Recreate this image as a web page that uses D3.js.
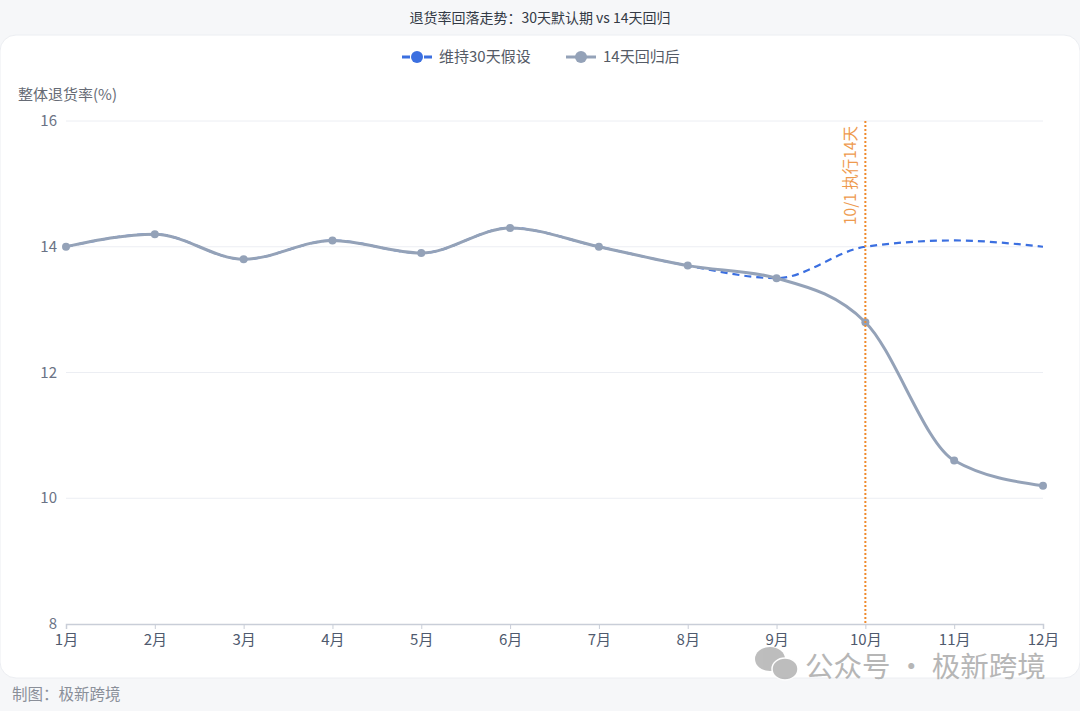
<!DOCTYPE html>
<html>
<head>
<meta charset="utf-8">
<script src="https://cdn.jsdelivr.net/npm/d3@7/dist/d3.min.js"></script>
<style>
  html, body { margin: 0; padding: 0; background: #f6f7f9; }
  body { font-family: "Noto Sans CJK SC", "Noto Sans", sans-serif; }
</style>
</head>
<body>
<div id="chart"></div>
<script>
var months = ["1月", "2月", "3月", "4月", "5月", "6月", "7月", "8月", "9月", "10月", "11月", "12月"];
var keep30 = [14.0, 14.2, 13.8, 14.1, 13.9, 14.3, 14.0, 13.7, 13.5, 14.0, 14.1, 14.0];
var after14 = [14.0, 14.2, 13.8, 14.1, 13.9, 14.3, 14.0, 13.7, 13.5, 12.8, 10.6, 10.2];
var yTicks = [8, 10, 12, 14, 16];
var markMonth = "10月";
var markLabel = "10/1 执行14天";

var W = 1080, H = 711;
var svg = d3.select("#chart").append("svg")
    .attr("width", W)
    .attr("height", H)
    .style("display", "block");

svg.append("rect").attr("width", W).attr("height", H).attr("fill", "#f6f7f9");

// white card
svg.append("rect")
   .attr("x", 0).attr("y", 35)
   .attr("width", W).attr("height", 643)
   .attr("rx", 16)
   .attr("fill", "#ffffff")
   .attr("stroke", "#eceef2");

svg.append("text")
   .attr("x", W / 2).attr("y", 23)
   .attr("text-anchor", "middle")
   .style("font-size", "14px")
   .style("fill", "#333a45")
   .text("退货率回落走势：30天默认期 vs 14天回归");

var x = d3.scalePoint().domain(months).range([66, 1043]);
var y = d3.scaleLinear().domain([8, 16]).range([624, 121]);

// grid
svg.append("g")
   .selectAll("line")
   .data(yTicks.filter(function (d) { return d != 8; }))
   .enter()
   .append("line")
   .attr("x1", 66).attr("x2", 1043)
   .attr("y1", function (d) { return y(d); })
   .attr("y2", function (d) { return y(d); })
   .style("stroke", "#eceef3")
   .style("stroke-width", 1);

svg.append("g")
   .selectAll("text")
   .data(yTicks)
   .enter()
   .append("text")
   .attr("x", 57)
   .attr("y", function (d) { return y(d) + 5; })
   .attr("text-anchor", "end")
   .style("font-size", "15px")
   .style("fill", "#6b7385")
   .text(function (d) { return d; });

svg.append("text")
   .attr("x", 18).attr("y", 100)
   .style("font-size", "15px")
   .style("fill", "#666b75")
   .text("整体退货率(%)");

// x axis
var xAxis = svg.append("g")
   .attr("transform", "translate(0,624)")
   .call(d3.axisBottom(x).tickSize(5).tickPadding(5));
xAxis.select(".domain").style("stroke", "#c9ced8").style("stroke-width", 1.5);
xAxis.selectAll(".tick line").style("stroke", "#c9ced8");
xAxis.selectAll(".tick text")
     .style("font-size", "15px")
     .style("font-family", "'Noto Sans CJK SC', sans-serif")
     .style("fill", "#4f5a6e");

var line = d3.line()
    .x(function (d, i) { return x(months[i]); })
    .y(function (d) { return y(d); })
    .curve(d3.curveMonotoneX);

svg.append("path")
   .attr("d", line(keep30))
   .style("fill", "none")
   .style("stroke", "#3b6fe0")
   .style("stroke-width", 2.2)
   .style("stroke-dasharray", "7,5");

svg.append("path")
   .attr("d", line(after14))
   .style("fill", "none")
   .style("stroke", "#94a2b8")
   .style("stroke-width", 3);

svg.append("g")
   .selectAll("circle")
   .data(after14)
   .enter()
   .append("circle")
   .attr("cx", function (d, i) { return x(months[i]); })
   .attr("cy", function (d) { return y(d); })
   .attr("r", 4)
   .style("fill", "#94a2b8");

// marker line
var mx = x(markMonth);
svg.append("line")
   .attr("x1", mx).attr("x2", mx)
   .attr("y1", 121).attr("y2", 624)
   .style("stroke", "#ef8a2c")
   .style("stroke-width", 2)
   .style("stroke-dasharray", "2,2");

svg.append("text")
   .attr("transform", "translate(" + (mx - 9) + ",126) rotate(-90)")
   .attr("text-anchor", "end")
   .style("font-size", "15.5px")
   .style("fill", "#ee9a4e")
   .text(markLabel);

// legend
var legend = [
  {name: "维持30天假设", color: "#3b6fe0", x: 402, dash: true},
  {name: "14天回归后", color: "#94a2b8", x: 566, dash: false}
];
var lg = svg.append("g").selectAll("g").data(legend).enter().append("g")
   .attr("transform", function (d) { return "translate(" + d.x + ",57)"; });
lg.append("line")
  .attr("x1", 0).attr("x2", 30)
  .style("stroke", function (d) { return d.color; })
  .style("stroke-width", 3)
  .style("stroke-dasharray", function (d) { return d.dash ? "8,3" : null; });
lg.append("circle")
  .attr("cx", 15).attr("r", 6)
  .style("fill", function (d) { return d.color; });
lg.append("text")
  .attr("x", 37).attr("y", 5)
  .style("font-size", "15px")
  .style("fill", "#555b66")
  .text(function (d) { return d.name; });

// watermark
var wm = svg.append("g").attr("opacity", 0.75);
wm.append("ellipse").attr("cx", 770).attr("cy", 659).attr("rx", 15).attr("ry", 12).style("fill", "#a8a8a8");
wm.append("ellipse").attr("cx", 785).attr("cy", 669).attr("rx", 13).attr("ry", 11).style("fill", "#a8a8a8").style("stroke", "#fff").style("stroke-width", 1.5);
wm.append("text")
  .attr("x", 805).attr("y", 677)
  .style("font-size", "28.5px")
  .style("fill", "#9e9e9e")
  .text("公众号 · 极新跨境");

svg.append("text")
   .attr("x", 12).attr("y", 700)
   .style("font-size", "15.5px")
   .style("fill", "#8a8f99")
   .text("制图：极新跨境");
</script>
</body>
</html>
